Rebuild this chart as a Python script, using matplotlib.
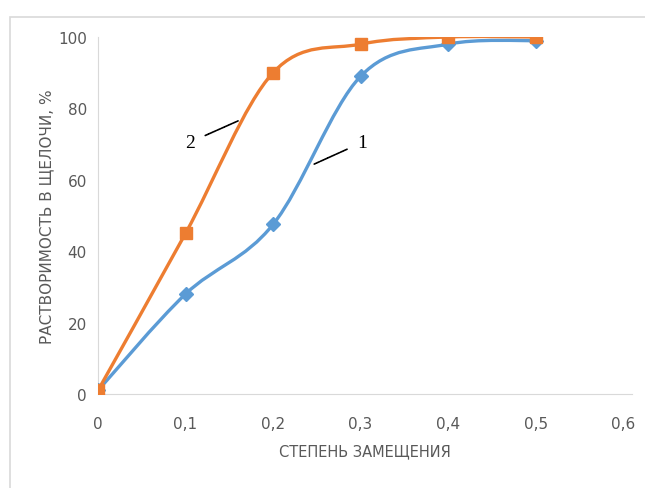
import numpy as np
import matplotlib
matplotlib.use("Agg")
import matplotlib.pyplot as plt
from matplotlib.path import Path
from matplotlib.patches import PathPatch, Rectangle

# data
x_vals = [0, 0.1, 0.2, 0.3, 0.4, 0.5]
series1 = [1, 28, 47.5, 89, 98, 99]     # curve 1, blue diamonds
series2 = [1, 45, 90, 98, 100, 100]     # curve 2, orange squares
x_ticks = [0, 0.1, 0.2, 0.3, 0.4, 0.5, 0.6]
x_tick_labels = ["0", "0,1", "0,2", "0,3", "0,4", "0,5", "0,6"]
y_ticks = [0, 20, 40, 60, 80, 100]

BLUE = "#5B9BD5"
ORANGE = "#ED7D31"
GRAY = "#595959"


def smooth_path(xs, ys, t=1 / 6):
    # Excel-like smoothed line: cubic bezier segments through the points
    pts = np.column_stack([xs, ys]).astype(float)
    n = len(pts)
    verts = [pts[0]]
    codes = [Path.MOVETO]
    for i in range(n - 1):
        p0 = pts[i - 1] if i > 0 else pts[i]
        p1 = pts[i]
        p2 = pts[i + 1]
        p3 = pts[i + 2] if i + 2 < n else pts[i + 1]
        c1 = p1 + (p2 - p0) * t
        c2 = p2 - (p3 - p1) * t
        verts += [c1, c2, p2]
        codes += [Path.CURVE4] * 3
    return Path(verts, codes)


fig = plt.figure(figsize=(6.45, 4.89), dpi=100)
fig.patches.append(Rectangle((10 / 645, -0.1), 1.2, 1 - 18 / 489 + 0.1,
                             transform=fig.transFigure, fill=False,
                             edgecolor="#d9d9d9", lw=1.2))
ax = fig.add_axes([98 / 645, 94 / 489, 534 / 645, 357 / 489])

for ys, col, mk, ms in [(series1, BLUE, "D", 7), (series2, ORANGE, "s", 8.5)]:
    ax.add_patch(PathPatch(smooth_path(x_vals, ys), fill=False,
                           edgecolor=col, lw=2.4, zorder=3))
    ax.plot(x_vals, ys, ls="none", marker=mk, ms=ms, color=col, zorder=4)

ax.set_xlim(0, 0.61)
ax.set_ylim(0, 100)
ax.set_xticks(x_ticks)
ax.set_xticklabels(x_tick_labels)
ax.set_yticks(y_ticks)
ax.tick_params(length=0, labelsize=11, labelcolor=GRAY)
ax.tick_params(axis="x", pad=16)
ax.tick_params(axis="y", pad=8)
for s in ["top", "right"]:
    ax.spines[s].set_visible(False)
ax.spines["left"].set_color("#d9d9d9")
ax.spines["bottom"].set_color("#d9d9d9")
ax.spines["left"].set_position(("data", 0))

ax.set_xlabel("СТЕПЕНЬ ЗАМЕЩЕНИЯ", fontsize=10.5, color=GRAY, labelpad=9)
ax.set_ylabel("РАСТВОРИМОСТЬ В ЩЕЛОЧИ, %", fontsize=11, color=GRAY, labelpad=3)

# curve labels
ax.annotate("2", xy=(0.16, 76.5), xytext=(0.105, 70.5), fontsize=14,
            family="Liberation Serif", ha="center", va="center",
            arrowprops=dict(arrowstyle="-", color="black", lw=1.2, ls=(0, (2, 0.6)),
                            shrinkA=6, shrinkB=0))
ax.annotate("1", xy=(0.247, 64.4), xytext=(0.302, 70.5), fontsize=14,
            family="Liberation Serif", ha="center", va="center",
            arrowprops=dict(arrowstyle="-", color="black", lw=1.2, ls=(0, (2, 0.6)),
                            shrinkA=6, shrinkB=0))

fig.savefig("out.png", dpi=100)
